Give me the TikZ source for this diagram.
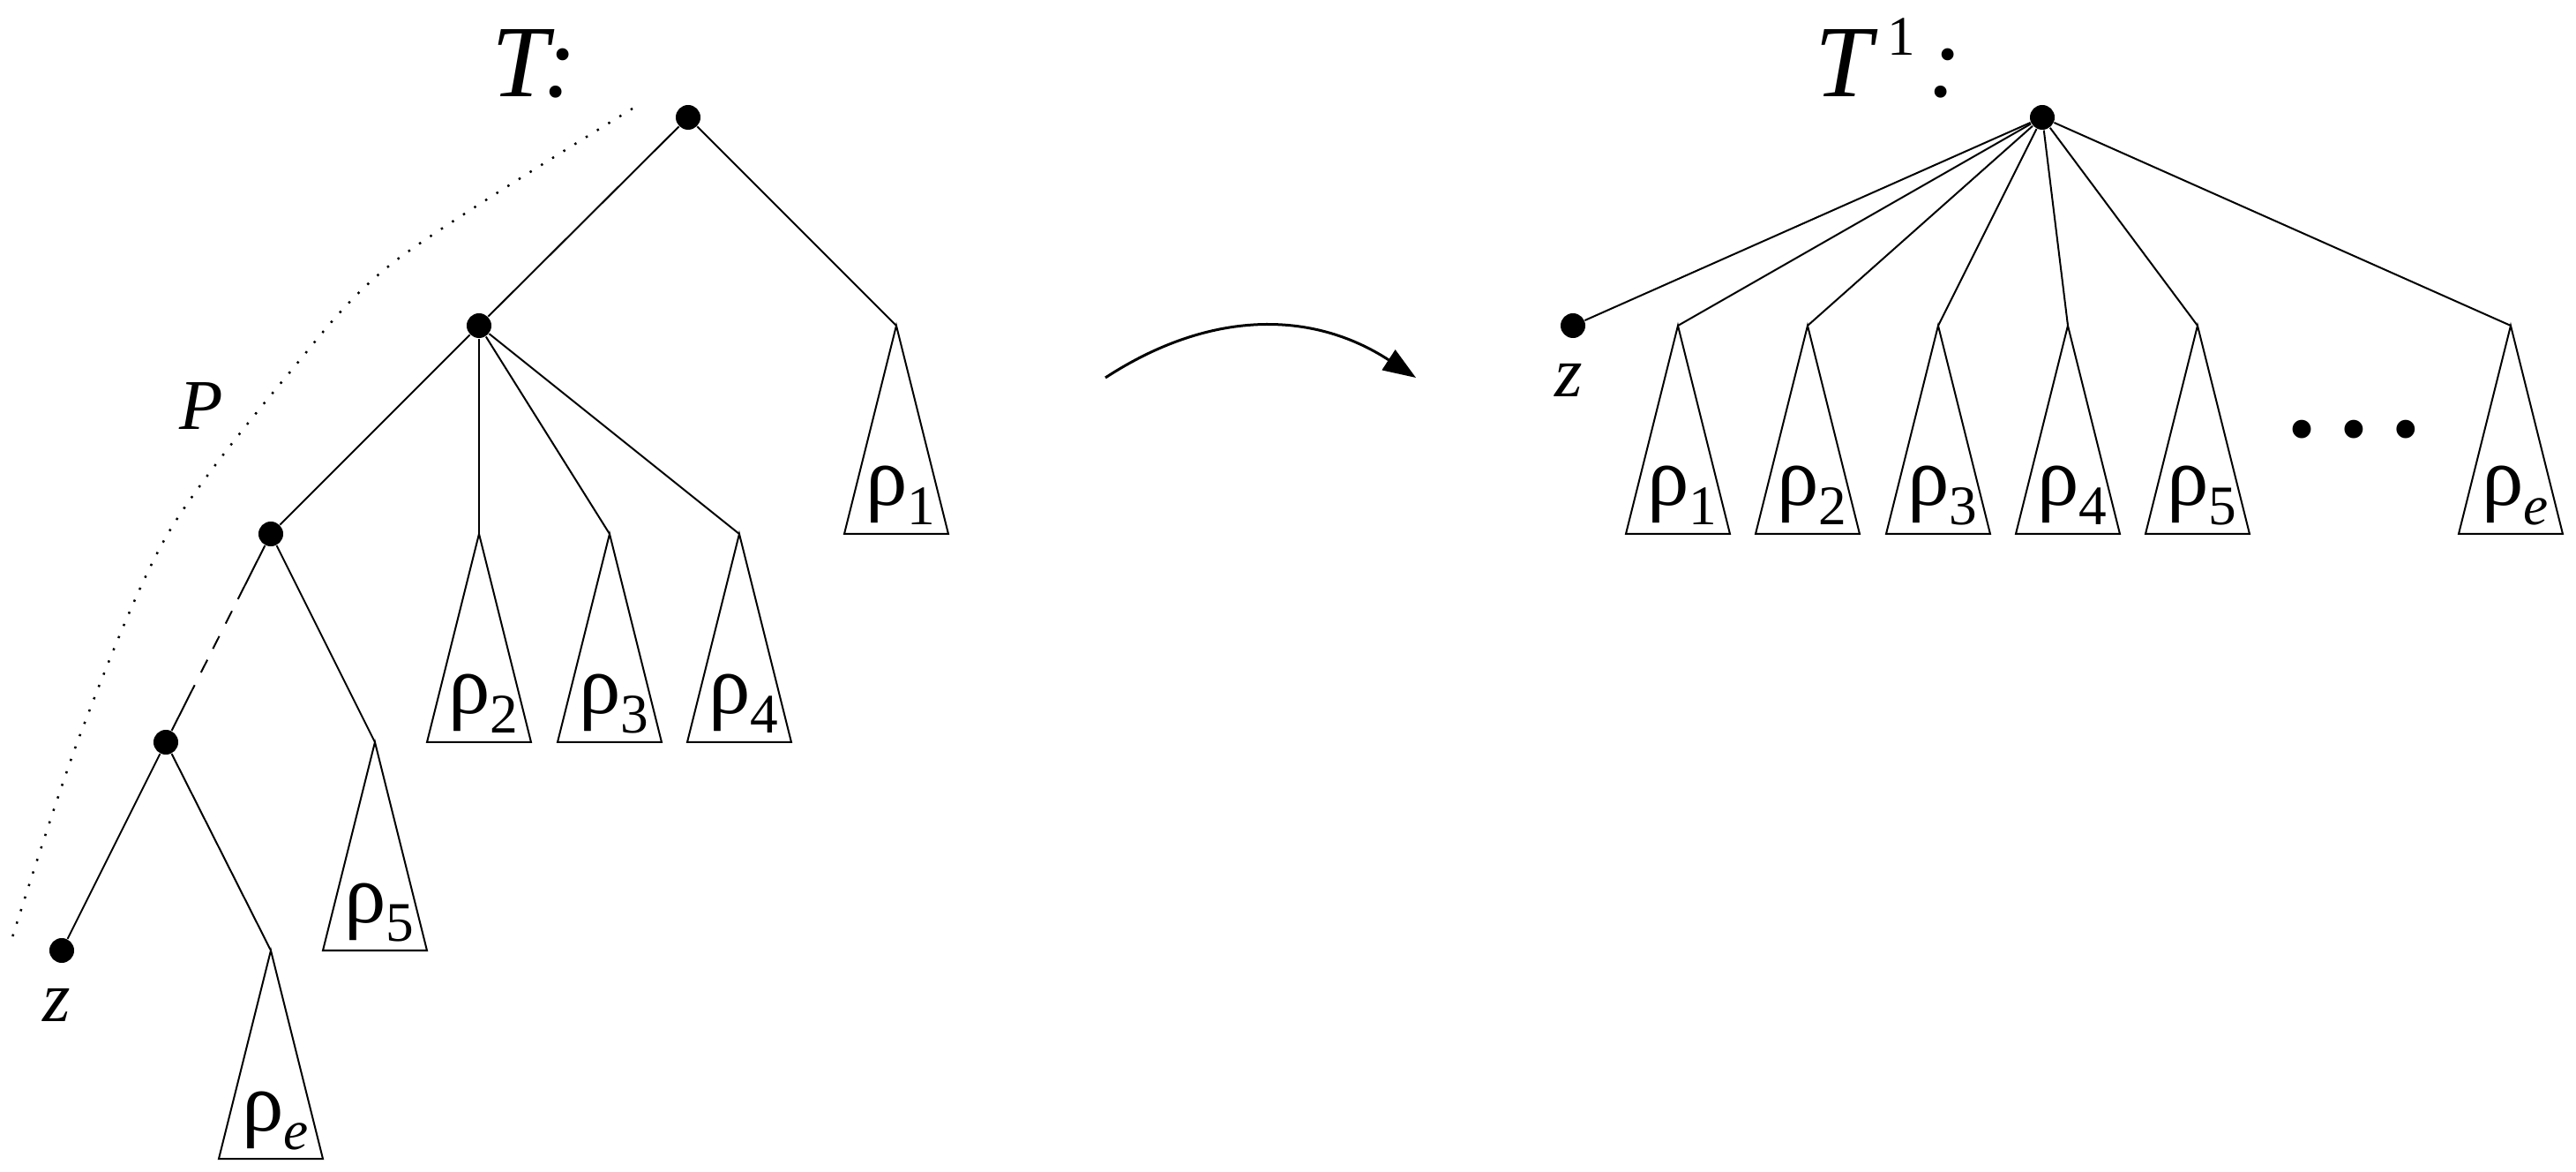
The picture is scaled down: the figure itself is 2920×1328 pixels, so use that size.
\documentclass[tikz,border=0pt]{standalone}
\usepackage{fontspec}
\setmainfont{Liberation Serif}
\usetikzlibrary{arrows.meta}
\newcommand{\rhosub}[1]{\fontsize{27}{30}\selectfont ρ\raisebox{-0.21cm}{\fontsize{18}{20}\selectfont #1}}
\tikzset{
  tree/.style={line width=0.02cm},
  vdot/.style={circle, fill=black, inner sep=0pt, minimum size=0.28cm},
  lbl/.style={anchor=base, inner sep=0pt},
  varlbl/.style={anchor=base, inner sep=0pt, font=\fontsize{23}{26}\selectfont\itshape},
  pics/subtree/.style={code={
    \draw[tree] (0,0) -- (-59,236) -- (59,236) -- cycle;
    \node[lbl] at (5,204) {\rhosub{#1}};
  }}
}
\begin{document}
\begin{tikzpicture}[x=0.01cm,y=-0.01cm]
\useasboundingbox (0,0) rectangle (2920,1328);
% ---------- left tree T ----------
\node[anchor=base west, inner sep=0pt, font=\fontsize{33}{36}\selectfont\itshape] (tT) at (557,110) {T:};
\node[vdot] (A) at (780,133) {};
\node[vdot] (B) at (543,369) {};
\node[vdot] (C) at (307,605) {};
\node[vdot] (D) at (188,841) {};
\node[vdot] (zL) at (70,1077) {};
\coordinate (L1) at (1016,369);
\coordinate (L2) at (543,605);
\coordinate (L3) at (691,605);
\coordinate (L4) at (838,605);
\coordinate (L5) at (425,841);
\coordinate (Le) at (307,1077);
\draw[tree] (A) -- (B);
\draw[tree] (A) -- (L1);
\draw[tree] (B) -- (C);
\draw[tree] (B) -- (L2);
\draw[tree] (B) -- (L3);
\draw[tree] (B) -- (L4);
\draw[tree, dash pattern=on 19.35pt off 4.27pt on 4.55pt off 4.55pt on 4.55pt off 3.98pt on 4.55pt off 4.55pt on 30pt] (C) -- (D);
\draw[tree] (C) -- (L5);
\draw[tree] (D) -- (zL);
\draw[tree] (D) -- (Le);
\pic at (L1) {subtree={1}};
\pic at (L2) {subtree={2}};
\pic at (L3) {subtree={3}};
\pic at (L4) {subtree={4}};
\pic at (L5) {subtree={5}};
\pic at (Le) {subtree={\itshape e}};
\node[varlbl] (zLl) at (64,1157) {z};
\node[varlbl] (Pl) at (228,487) {P};
\draw[line width=0.025cm, dash pattern=on 0.7pt off 3.55pt]
  plot[smooth] coordinates {(717,123) (449,295) (330,420) (189,607) (91,832) (14,1062)};
% ---------- arrow ----------
\coordinate (ar0) at (1253,428);
\coordinate (ar1) at (1605,428);
\draw[line width=0.03cm, -{Triangle[length=0.37cm,width=0.27cm]}] (ar0) .. controls (1371,351) and (1487,351) .. (ar1);
% ---------- right tree T^1 ----------
\node[anchor=base west, inner sep=0pt, font=\fontsize{33}{36}\selectfont] (tT1) at (2057,110)
  {\itshape T\hspace{0.17cm}\raisebox{0.47cm}{\fontsize{18}{20}\selectfont\upshape 1}\hspace{0.15cm}:};
\node[vdot] (R) at (2315,133) {};
\node[vdot] (zR) at (1783,369) {};
\coordinate (R1) at (1902,369);
\coordinate (R2) at (2049,369);
\coordinate (R3) at (2197,369);
\coordinate (R4) at (2344,369);
\coordinate (R5) at (2491,369);
\coordinate (Re) at (2846,369);
\foreach \t in {zR,R1,R2,R3,R4,R5,Re} \draw[tree] (R) -- (\t);
\pic at (R1) {subtree={1}};
\pic at (R2) {subtree={2}};
\pic at (R3) {subtree={3}};
\pic at (R4) {subtree={4}};
\pic at (R5) {subtree={5}};
\pic at (Re) {subtree={\itshape e}};
\node[varlbl] (zRl) at (1778,450) {z};
\node[lbl, font=\fontsize{50}{50}\selectfont] (dots) at (2668,495) {…};
\end{tikzpicture}
\end{document}
